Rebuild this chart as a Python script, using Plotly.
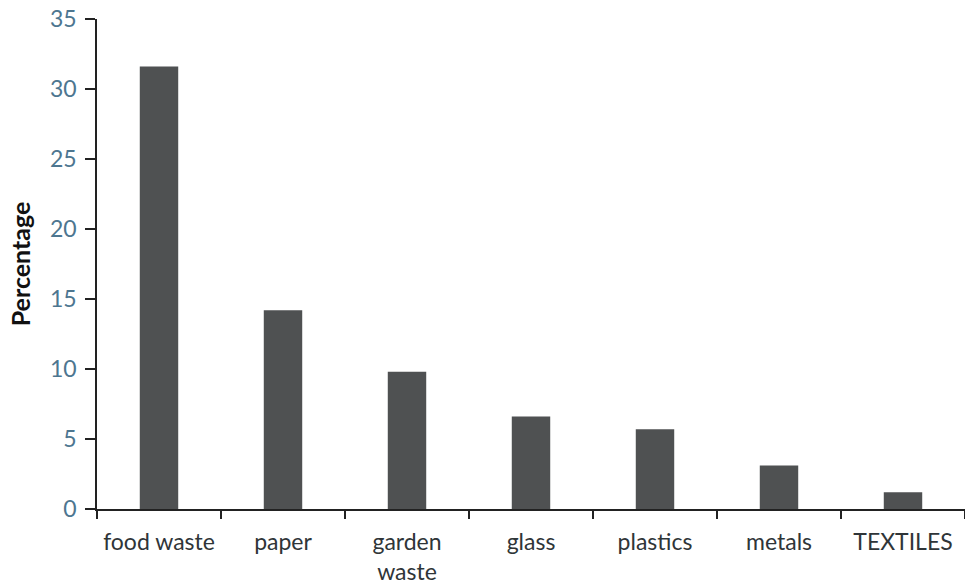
import plotly.graph_objects as go

categories = ["food waste", "paper", "garden<br>waste", "glass", "plastics", "metals", "TEXTILES"]
percentages = [31.6, 14.2, 9.8, 6.6, 5.7, 3.1, 1.2]
y_ticks = [0, 5, 10, 15, 20, 25, 30, 35]

fig = go.Figure()
fig.add_trace(go.Bar(
    x=categories,
    y=percentages,
    marker=dict(color="#4f5152", line=dict(width=0)),
    width=0.31,
))

font_family = "Lato, 'Open Sans', sans-serif"

fig.update_layout(
    width=965,
    height=586,
    margin=dict(l=97, r=0, t=19, b=77),
    paper_bgcolor="white",
    plot_bgcolor="white",
    showlegend=False,
    font=dict(family=font_family, size=23, color="#333333"),
    xaxis=dict(
        range=[-0.5, 6.5],
        automargin=False,
        tickangle=0,
        showline=True,
        linecolor="#222222",
        linewidth=1.5,
        ticks="outside",
        tickson="boundaries",
        ticklen=8,
        tickcolor="#222222",
        tickwidth=1.5,
        ticklabelstandoff=12,
        showgrid=False,
        zeroline=False,
        tickfont=dict(family=font_family, size=23, color="#2f3538"),
    ),
    yaxis=dict(
        range=[0, 35],
        automargin=False,
        tickvals=y_ticks,
        showline=True,
        linecolor="#222222",
        linewidth=1.5,
        ticks="outside",
        ticklen=10,
        tickcolor="#222222",
        tickwidth=1.5,
        ticklabelstandoff=4,
        showgrid=False,
        zeroline=False,
        tickfont=dict(family=font_family, size=23, color="#4d7690"),
        title=dict(text="<b>Percentage</b>", font=dict(family=font_family, size=25, color="#111111"), standoff=12),
    ),
    bargap=0.69,
)

fig.write_html(
    "out.html",
    config={"displayModeBar": False},
    post_script="document.body.style.margin='0';",
)
